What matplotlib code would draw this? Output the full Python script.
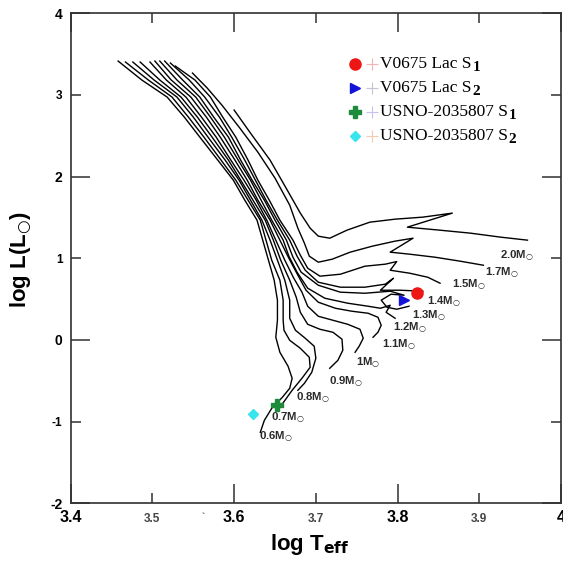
import matplotlib
matplotlib.use("Agg")
import matplotlib.pyplot as plt
from matplotlib.ticker import FixedLocator, FuncFormatter

# Evolutionary tracks, ZAMS first, ending on the red giant branch
logt_06 = [3.632, 3.637, 3.646, 3.659, 3.668, 3.671, 3.666, 3.656, 3.651, 3.653, 3.653, 3.649,
           3.642, 3.635, 3.628, 3.613, 3.599, 3.580, 3.558, 3.539, 3.518, 3.487, 3.458]
logl_06 = [-1.131, -0.984, -0.837, -0.702, -0.592, -0.469, -0.322, -0.151, 0.033, 0.241, 0.487, 0.732,
           0.977, 1.222, 1.467, 1.712, 1.957, 2.202, 2.484, 2.729, 2.974, 3.183, 3.415]

logt_07 = [3.656, 3.671, 3.683, 3.693, 3.692, 3.681, 3.668, 3.661, 3.660, 3.660, 3.656, 3.646,
           3.639, 3.632, 3.617, 3.602, 3.584, 3.563, 3.544, 3.524, 3.495, 3.467]
logl_07 = [-0.825, -0.616, -0.469, -0.335, -0.212, -0.102, -0.004, 0.119, 0.241, 0.487, 0.732, 0.977,
           1.222, 1.467, 1.712, 1.957, 2.202, 2.484, 2.729, 2.974, 3.183, 3.403]

logt_08 = [3.678, 3.686, 3.695, 3.700, 3.698, 3.687, 3.675, 3.668, 3.668, 3.662, 3.653, 3.644,
           3.634, 3.620, 3.606, 3.589, 3.568, 3.550, 3.530, 3.502, 3.476]
logl_08 = [-0.616, -0.531, -0.396, -0.224, -0.077, 0.021, 0.119, 0.266, 0.487, 0.732, 0.977, 1.222,
           1.467, 1.712, 1.957, 2.202, 2.484, 2.729, 2.974, 3.183, 3.403]

logt_09 = [3.717, 3.727, 3.733, 3.732, 3.721, 3.705, 3.690, 3.681, 3.676, 3.668, 3.657, 3.648,
           3.638, 3.623, 3.608, 3.593, 3.573, 3.555, 3.535, 3.509, 3.485]
logl_09 = [-0.347, -0.249, -0.126, 0.009, 0.094, 0.131, 0.192, 0.339, 0.523, 0.732, 0.977, 1.222,
           1.467, 1.712, 1.957, 2.202, 2.484, 2.729, 2.974, 3.183, 3.403]

logt_10 = [3.748, 3.753, 3.758, 3.754, 3.739, 3.721, 3.703, 3.690, 3.683, 3.673, 3.662, 3.651,
           3.640, 3.627, 3.612, 3.596, 3.578, 3.560, 3.541, 3.517, 3.497]
logl_10 = [-0.151, -0.077, 0.021, 0.131, 0.192, 0.241, 0.290, 0.413, 0.585, 0.756, 0.977, 1.222,
           1.467, 1.712, 1.957, 2.202, 2.484, 2.729, 2.974, 3.183, 3.403]

logt_11 = [3.770, 3.776, 3.780, 3.776, 3.764, 3.744, 3.724, 3.703, 3.688, 3.678, 3.667, 3.656,
           3.644, 3.629, 3.616, 3.601, 3.583, 3.566, 3.547, 3.523, 3.503]
logl_11 = [0.033, 0.094, 0.180, 0.278, 0.327, 0.352, 0.388, 0.462, 0.609, 0.793, 1.001, 1.222,
           1.467, 1.712, 1.957, 2.202, 2.484, 2.729, 2.974, 3.183, 3.415]

logt_12 = [3.797, 3.786, 3.791, 3.779, 3.764, 3.739, 3.711, 3.690, 3.677, 3.667, 3.660, 3.646,
           3.633, 3.620, 3.605, 3.588, 3.571, 3.553, 3.530, 3.509]
logl_12 = [0.266, 0.339, 0.425, 0.388, 0.413, 0.450, 0.511, 0.634, 0.830, 1.026, 1.222, 1.467,
           1.712, 1.957, 2.202, 2.484, 2.729, 2.974, 3.183, 3.415]

logt_13 = [3.814, 3.799, 3.787, 3.780, 3.792, 3.808, 3.791, 3.760, 3.730, 3.703, 3.682, 3.672,
           3.664, 3.650, 3.637, 3.622, 3.608, 3.593, 3.575, 3.558, 3.537, 3.515]
logl_13 = [0.413, 0.376, 0.401, 0.487, 0.560, 0.548, 0.597, 0.572, 0.585, 0.670, 0.830, 1.013,
           1.222, 1.467, 1.712, 1.957, 2.202, 2.484, 2.729, 2.974, 3.183, 3.415]

logt_14 = [3.831, 3.803, 3.779, 3.795, 3.785, 3.760, 3.730, 3.703, 3.687, 3.677, 3.668, 3.653,
           3.639, 3.626, 3.613, 3.597, 3.582, 3.564, 3.545, 3.522]
logl_14 = [0.597, 0.609, 0.609, 0.756, 0.683, 0.646, 0.646, 0.707, 0.854, 1.026, 1.222, 1.467,
           1.712, 1.957, 2.202, 2.484, 2.729, 2.974, 3.183, 3.391]

logt_15 = [3.852, 3.837, 3.815, 3.791, 3.799, 3.785, 3.760, 3.730, 3.705, 3.690, 3.681, 3.672,
           3.656, 3.643, 3.629, 3.617, 3.602, 3.586, 3.571, 3.552, 3.528]
logl_15 = [0.695, 0.768, 0.817, 0.854, 0.960, 0.928, 0.903, 0.805, 0.781, 0.879, 1.038, 1.222,
           1.467, 1.712, 1.957, 2.202, 2.484, 2.729, 2.974, 3.183, 3.354]

logt_17 = [3.905, 3.877, 3.846, 3.815, 3.791, 3.819, 3.797, 3.769, 3.742, 3.720, 3.703, 3.692,
           3.686, 3.678, 3.668, 3.650, 3.629, 3.607, 3.585, 3.567, 3.549]
logl_17 = [0.915, 0.964, 1.013, 1.050, 1.075, 1.246, 1.210, 1.148, 1.075, 0.989, 0.952, 1.026,
           1.185, 1.369, 1.651, 1.982, 2.300, 2.594, 2.876, 3.085, 3.268]

logt_20 = [3.959, 3.926, 3.889, 3.852, 3.812, 3.867, 3.831, 3.797, 3.766, 3.738, 3.717, 3.703,
           3.693, 3.681, 3.665, 3.644, 3.620, 3.600]
logl_20 = [1.222, 1.259, 1.308, 1.344, 1.381, 1.553, 1.504, 1.479, 1.442, 1.344, 1.246, 1.271,
           1.369, 1.553, 1.835, 2.202, 2.533, 2.815]

# Mass labels next to the ZAMS end of each track
mass_labels = ["0.6", "0.7", "0.8", "0.9", "1", "1.1", "1.2", "1.3", "1.4", "1.5", "1.7", "2.0"]
label_logt = [3.631, 3.645, 3.676, 3.716, 3.749, 3.781, 3.794, 3.818, 3.836, 3.867, 3.907, 3.925]
label_logl = [-1.19, -0.95, -0.71, -0.51, -0.285, -0.065, 0.145, 0.300, 0.470, 0.670, 0.817, 1.027]

# Observed components
star_names = ["V0675 Lac S", "V0675 Lac S", "USNO-2035807 S", "USNO-2035807 S"]
star_subs = ["1", "2", "1", "2"]
star_logt = [3.824, 3.808, 3.652, 3.6235]
star_logl = [0.58, 0.49, -0.80, -0.91]

star_styles = [dict(marker="o", ms=8, color="#ee1515"),
               dict(marker=">", ms=6.5, color="#1414d8"),
               dict(marker="P", ms=8, color="#1e8a3c"),
               dict(marker="D", ms=5.5, color="#38e4ee")]
faint_plus = ["#f2b4b4", "#c4c4d6", "#c8c0ee", "#f2cbb4"]

tracks = [(logt_06, logl_06), (logt_07, logl_07), (logt_08, logl_08), (logt_09, logl_09),
          (logt_10, logl_10), (logt_11, logl_11), (logt_12, logl_12), (logt_13, logl_13),
          (logt_14, logl_14), (logt_15, logl_15), (logt_17, logl_17), (logt_20, logl_20)]

plt.rcParams["font.family"] = ["Liberation Sans", "DejaVu Sans"]
plt.rcParams["font.weight"] = "bold"

fig = plt.figure(figsize=(5.63, 5.65), dpi=100)
ax = fig.add_axes([0.1256, 0.1092, 0.8708, 0.8673])

for t, l in tracks:
    ax.plot(t, l, color="black", lw=1.0, solid_joinstyle="round")

for t, l, style in zip(star_logt, star_logl, star_styles):
    ax.plot([t], [l], ls="none", zorder=5, **style)

for lab, t, l in zip(mass_labels, label_logt, label_logl):
    ax.text(t, l, lab + r"M$_{\bigcirc}$", fontsize=8.2, fontweight="bold", color="#2a2a2a",
            ha="left", va="center", math_fontfamily="dejavusans")

# legend drawn by hand: symbol, faint cross, name and a large subscript
for i, (name, sub, style) in enumerate(zip(star_names, star_subs, star_styles)):
    y = 0.8965 - i * 0.049
    ax.plot([0.580], [y], transform=ax.transAxes, clip_on=False, ls="none", **style)
    ax.plot([0.614], [y], marker="+", ms=9, mew=0.8, color=faint_plus[i],
            transform=ax.transAxes, ls="none")
    txt = ax.text(0.631, y, name, transform=ax.transAxes, fontsize=12.5, fontweight="normal",
                  family="Liberation Serif", ha="left", va="center")
    ax.annotate(sub, xy=(1.0, 0.0), xycoords=txt, xytext=(0.5, 3.0), textcoords="offset points",
                fontsize=11, fontweight="bold", family="Liberation Serif",
                ha="left", va="center")

ax.set_xlim(3.4, 4.0)
ax.set_ylim(-2, 4)

fmt = FuncFormatter(lambda v, p: f"{v:g}")
ax.xaxis.set_major_locator(FixedLocator([3.4, 3.6, 3.8, 4.0]))
ax.xaxis.set_minor_locator(FixedLocator([3.5, 3.7, 3.9]))
ax.yaxis.set_major_locator(FixedLocator([-2, 0, 2, 4]))
ax.yaxis.set_minor_locator(FixedLocator([-1, 1, 3]))
for axis in (ax.xaxis, ax.yaxis):
    axis.set_major_formatter(fmt)
    axis.set_minor_formatter(fmt)

ax.tick_params(which="both", direction="in", top=True, right=True, width=1.1, color="#303030")
ax.tick_params(which="major", length=14)
ax.tick_params(which="minor", length=7)
ax.tick_params(axis="x", which="major", labelsize=11.5, pad=5)
ax.tick_params(axis="x", which="minor", labelsize=8.5, pad=7, labelcolor="#444444")
ax.tick_params(axis="y", which="major", labelsize=10, pad=6)
ax.tick_params(axis="y", which="minor", labelsize=8.5, pad=6)

for sp in ax.spines.values():
    sp.set_linewidth(1.2)
    sp.set_color("#303030")

ax.text(3.562, -2.17, "`", fontsize=7, color="#555555", ha="center", va="center", clip_on=False)

fig.text(0.551, 0.036, r"log T$_{\mathbf{eff}}$", fontsize=16, fontweight="bold",
         ha="center", va="center", math_fontfamily="dejavusans")
fig.text(0.037, 0.54, r"log L(L$_{\bigcirc}$)", fontsize=16, fontweight="bold", rotation=90,
         ha="center", va="center", math_fontfamily="dejavusans")

fig.savefig("out.png", dpi=100, facecolor="white")
